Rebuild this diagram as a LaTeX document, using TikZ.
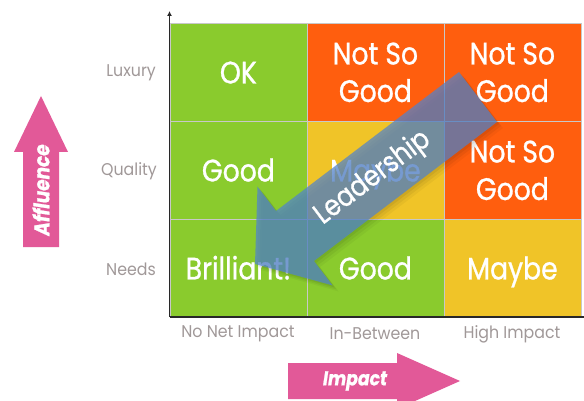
\documentclass[tikz,border=0pt]{standalone}
\usepackage{fontspec}
\usetikzlibrary{arrows.meta}
\newfontfamily\cellfont{Poppins}[FakeStretch=0.86, FakeBold=0.9]
\newfontfamily\labelfont{Poppins}[FakeStretch=0.93]
\definecolor{cellgreen}{RGB}{138,203,45}
\definecolor{cellorange}{RGB}{255,94,14}
\definecolor{cellyellow}{RGB}{240,196,40}
\definecolor{gridgray}{RGB}{200,200,200}
\definecolor{labelgray}{RGB}{160,152,152}
\definecolor{axisdark}{RGB}{40,40,40}
\definecolor{pinkarrow}{RGB}{226,89,152}
\definecolor{leadblue}{RGB}{80,130,205}
\begin{document}
\begin{tikzpicture}[x=1pt,y=-1pt,
  cell/.style={draw=gridgray, line width=0.8pt, minimum width=137pt, minimum height=98pt,
    inner sep=0pt, anchor=north west, text=white, align=center,
    font=\cellfont\fontsize{31}{37.5}\selectfont},
  oneline/.style={text height=22pt, text depth=0pt},
  good/.style={cell, fill=cellgreen},
  bad/.style={cell, fill=cellorange},
  maybe/.style={cell, fill=cellyellow},
  axislabel/.style={text=labelgray, font=\labelfont\fontsize{17}{19}\selectfont, inner sep=0pt},
  axisline/.style={draw=axisdark, line width=1.6pt},
  bigarrow/.style={fill=pinkarrow, draw=none},
  arrowtext/.style={text=white, font=\cellfont\bfseries\itshape\fontsize{20}{23}\selectfont, inner sep=0pt}
]
\useasboundingbox (0,0) rectangle (584,401);

% matrix of cells, rows from top (Luxury) to bottom (Needs)
\node[good, oneline]  (c11) at (169.5,23)  {OK};
\node[bad]            (c12) at (306.5,23)  {Not So\\Good};
\node[bad]            (c13) at (443.5,23)  {Not So\\Good};
\node[good, oneline]  (c21) at (169.5,121) {Good};
\node[maybe, oneline] (c22) at (306.5,121) {Maybe};
\node[bad]            (c23) at (443.5,121) {Not So\\Good};
\node[good, oneline]  (c31) at (169.5,219) {Brilliant!};
\node[good, oneline]  (c32) at (306.5,219) {Good};
\node[maybe, oneline] (c33) at (443.5,219) {Maybe};

% axes
\coordinate (origin) at (169.5,317);
\coordinate (ytop) at (169.5,11);
\coordinate (xend) at (584,317);
\draw[axisline, -{Latex[length=5pt,width=5pt]}] (origin) -- (ytop);
\draw[axisline] (origin) -- (xend);

% row and column labels
\node[axislabel, anchor=east] (lux) at (156,73)  {Luxury};
\node[axislabel, anchor=east] (qua) at (157,171) {Quality};
\node[axislabel, anchor=east] (nee) at (156,269) {Needs};
\node[axislabel] (nni) at (238,334) {No Net Impact};
\node[axislabel] (inb) at (375,334) {In-Between};
\node[axislabel] (hii) at (512,334) {High Impact};

% Affluence arrow
\fill[bigarrow] (23,247) -- (23,152) -- (14,152) -- (41,96) -- (68,152) -- (59,152) -- (59,247) -- cycle;
\node[arrowtext, rotate=90, font=\cellfont\bfseries\itshape\fontsize{21.5}{24}\selectfont] (aff) at (41,190) {Affluence};

% Impact arrow
\fill[bigarrow] (288,363) -- (397,363) -- (397,353) -- (460,381) -- (397,409) -- (397,399) -- (288,399) -- cycle;
\node[arrowtext] (imp) at (355,381) {Impact};

% Leadership arrow, translucent with a soft shadow
\foreach \s/\o in {6/0.04,4/0.05,2/0.06}{
  \fill[black, opacity=\o, shift={(\s,\s)}]
    (459,72) -- (497,122) -- (314,261) -- (332.5,285.4) -- (255,264) -- (257.5,186.6) -- (276,211) -- cycle;
}
\fill[leadblue, opacity=0.72]
    (459,72) -- (497,122) -- (314,261) -- (332.5,285.4) -- (255,264) -- (257.5,186.6) -- (276,211) -- cycle;
\node[text=white, font=\cellfont\fontsize{29}{32}\selectfont, rotate=37, inner sep=0pt] (lead) at (373,178) {Leadership};
\end{tikzpicture}
\end{document}
